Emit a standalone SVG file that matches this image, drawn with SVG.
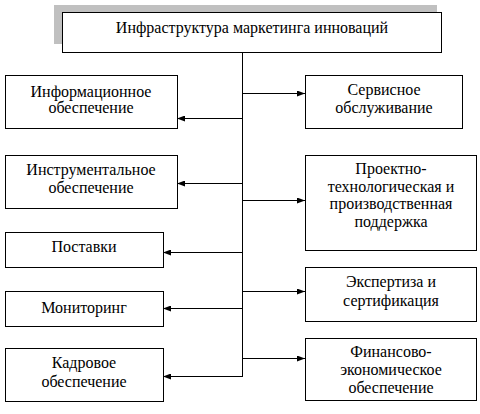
<svg xmlns="http://www.w3.org/2000/svg" width="480" height="414" viewBox="0 0 480 414">
<style>
.box{fill:#fff;stroke:#000;stroke-width:1}
.c{stroke:#000;stroke-width:1;fill:none}
</style>
<defs>
<marker id="ah" viewBox="0 0 8 6" refX="8" refY="3" markerWidth="8" markerHeight="6" markerUnits="userSpaceOnUse" orient="auto">
<path d="M0,0 L8,3 L0,6 Z" fill="#000"/>
</marker>
</defs>
<rect x="54" y="5" width="383" height="39" fill="#c0c0c0"/>
<g id="connectors">
<line class="c" x1="242.5" y1="52" x2="242.5" y2="377"/>
<line class="c" x1="242" y1="93.5" x2="305" y2="93.5" marker-end="url(#ah)"/>
<line class="c" x1="243" y1="118.5" x2="177" y2="118.5" marker-end="url(#ah)"/>
<line class="c" x1="243" y1="183.5" x2="177" y2="183.5" marker-end="url(#ah)"/>
<line class="c" x1="242" y1="200.5" x2="305" y2="200.5" marker-end="url(#ah)"/>
<line class="c" x1="243" y1="252.5" x2="163" y2="252.5" marker-end="url(#ah)"/>
<line class="c" x1="242" y1="291.5" x2="305" y2="291.5" marker-end="url(#ah)"/>
<line class="c" x1="243" y1="308.5" x2="163" y2="308.5" marker-end="url(#ah)"/>
<line class="c" x1="242" y1="358.5" x2="305" y2="358.5" marker-end="url(#ah)"/>
<line class="c" x1="243" y1="376.5" x2="163" y2="376.5" marker-end="url(#ah)"/>
</g>
<g id="top"><rect class="box" x="62.5" y="12.5" width="379" height="40"/><text x="252" y="33" font-family="Tinos, serif" font-size="16" text-anchor="middle">Инфраструктура маркетинга инноваций</text></g>
<g id="info"><rect class="box" x="5.5" y="75.5" width="172" height="53"/><text x="91" y="97" font-family="Tinos, serif" font-size="16" text-anchor="middle">Информационное</text><text x="91" y="113" font-family="Tinos, serif" font-size="16" text-anchor="middle">обеспечение</text></g>
<g id="instr"><rect class="box" x="5.5" y="155.5" width="172" height="53"/><text x="91" y="175" font-family="Tinos, serif" font-size="16" text-anchor="middle">Инструментальное</text><text x="91" y="193" font-family="Tinos, serif" font-size="16" text-anchor="middle">обеспечение</text></g>
<g id="postavki"><rect class="box" x="5.5" y="232.5" width="158" height="35"/><text x="84" y="252" font-family="Tinos, serif" font-size="16" text-anchor="middle">Поставки</text></g>
<g id="monitoring"><rect class="box" x="5.5" y="291.5" width="158" height="35"/><text x="84" y="313" font-family="Tinos, serif" font-size="16" text-anchor="middle">Мониторинг</text></g>
<g id="kadrovoe"><rect class="box" x="5.5" y="348.5" width="158" height="53"/><text x="84" y="368" font-family="Tinos, serif" font-size="16" text-anchor="middle">Кадровое</text><text x="84" y="387" font-family="Tinos, serif" font-size="16" text-anchor="middle">обеспечение</text></g>
<g id="servis"><rect class="box" x="305.5" y="75.5" width="157" height="53"/><text x="384" y="95" font-family="Tinos, serif" font-size="16" text-anchor="middle">Сервисное</text><text x="384" y="113" font-family="Tinos, serif" font-size="16" text-anchor="middle">обслуживание</text></g>
<g id="proekt"><rect class="box" x="305.5" y="155.5" width="171" height="95"/><text x="391" y="174" font-family="Tinos, serif" font-size="16" text-anchor="middle">Проектно-</text><text x="391" y="192" font-family="Tinos, serif" font-size="16" text-anchor="middle">технологическая и</text><text x="391" y="209" font-family="Tinos, serif" font-size="16" text-anchor="middle">производственная</text><text x="391" y="227" font-family="Tinos, serif" font-size="16" text-anchor="middle">поддержка</text></g>
<g id="ekspert"><rect class="box" x="305.5" y="267.5" width="171" height="54"/><text x="391" y="287" font-family="Tinos, serif" font-size="16" text-anchor="middle">Экспертиза и</text><text x="391" y="306" font-family="Tinos, serif" font-size="16" text-anchor="middle">сертификация</text></g>
<g id="finans"><rect class="box" x="305.5" y="338.5" width="171" height="62"/><text x="391" y="357" font-family="Tinos, serif" font-size="16" text-anchor="middle">Финансово-</text><text x="391" y="375" font-family="Tinos, serif" font-size="16" text-anchor="middle">экономическое</text><text x="391" y="393" font-family="Tinos, serif" font-size="16" text-anchor="middle">обеспечение</text></g>
</svg>
